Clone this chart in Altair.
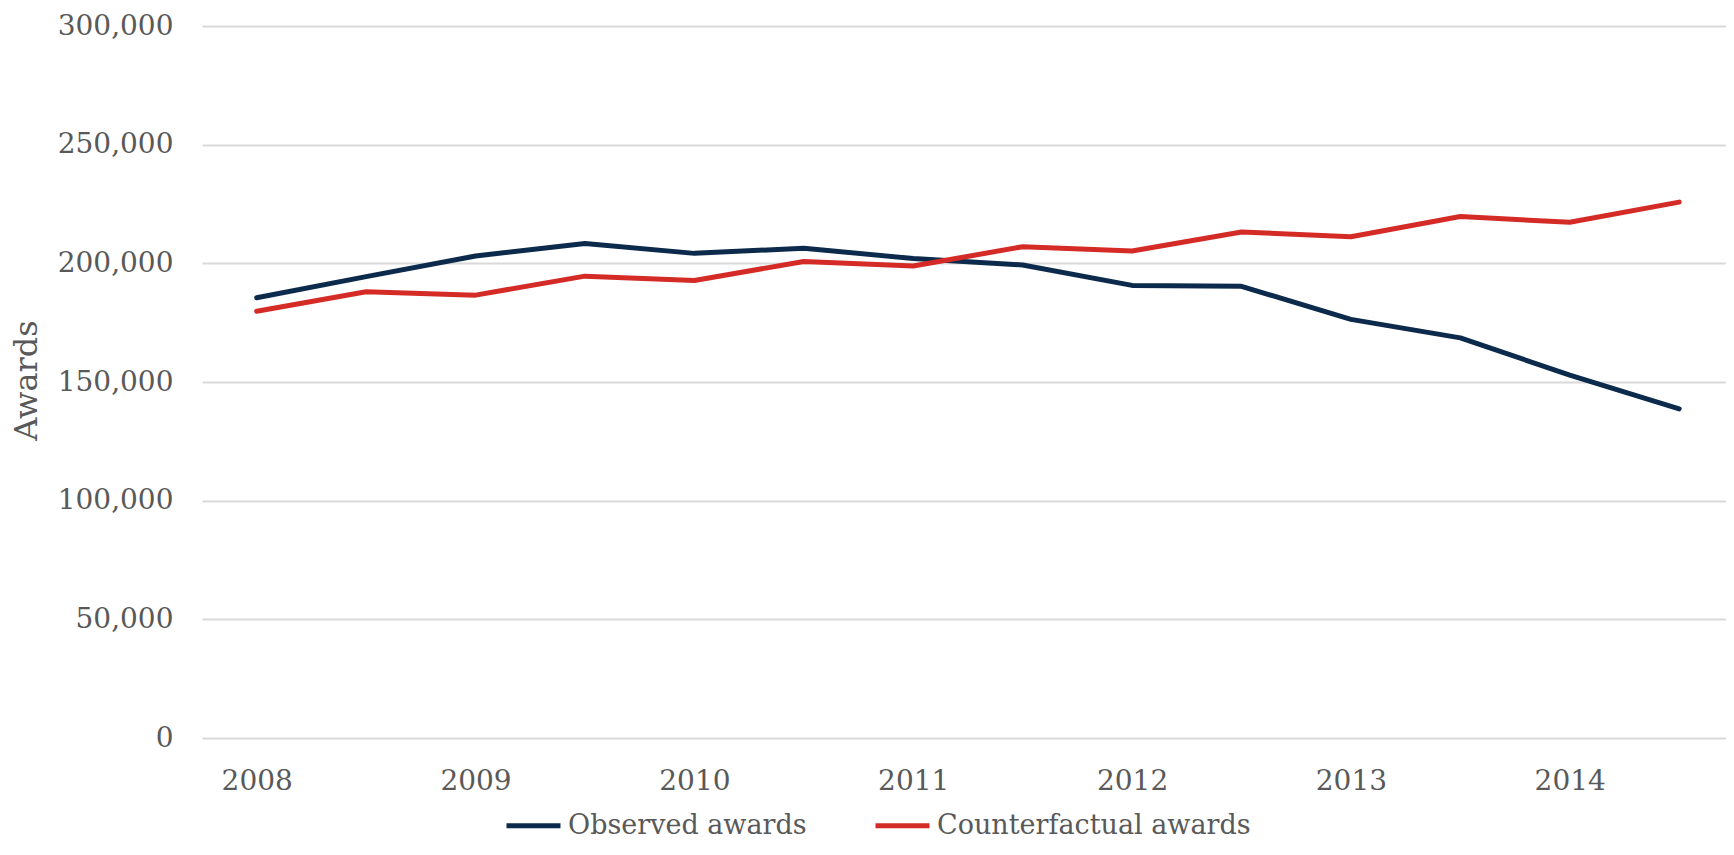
import altair as alt
import pandas as pd

periods = [2008, 2008.5, 2009, 2009.5, 2010, 2010.5, 2011, 2011.5,
           2012, 2012.5, 2013, 2013.5, 2014, 2014.5]
observed = [185500, 194400, 203100, 208400, 204200, 206400, 202000, 199300,
            190700, 190300, 176400, 168600, 152900, 138700]
counterfactual = [179800, 188000, 186600, 194600, 192800, 200800, 198900, 207000,
                  205200, 213200, 211200, 219700, 217300, 225800]
series_names = ["Observed awards", "Counterfactual awards"]
series_colors = ["#0c2a4b", "#d42b27"]
year_ticks = [2008, 2009, 2010, 2011, 2012, 2013, 2014]
y_ticks = [0, 50000, 100000, 150000, 200000, 250000, 300000]

rows = []
for p, o, c in zip(periods, observed, counterfactual):
    rows.append({"period": p, "series": series_names[0], "value": o})
    rows.append({"period": p, "series": series_names[1], "value": c})
df = pd.DataFrame(rows)

FONT = "DejaVu Serif"
GREY = "#595959"

chart = alt.Chart(df).mark_line(
    strokeWidth=5, strokeCap="round", strokeJoin="round"
).encode(
    x=alt.X(
        "period:Q",
        scale=alt.Scale(domain=[2007.75, 2014.714], nice=False, zero=False),
        axis=alt.Axis(
            values=year_ticks, format="d", title=None, grid=False, domain=False,
            ticks=False, labelFontSize=28, labelPadding=29, labelColor=GREY,
            labelFont=FONT, labelFlush=False,
        ),
    ),
    y=alt.Y(
        "value:Q",
        scale=alt.Scale(domain=[0, 300000], nice=False),
        axis=alt.Axis(
            values=y_ticks, format=",d", title="Awards", titleFont=FONT,
            titleFontSize=32, titleFontWeight="normal", titleColor=GREY,
            titleAngle=-90, titleX=-176, titleY=354, titleAlign="center",
            titleBaseline="middle", labelFontSize=28, labelPadding=29,
            labelColor=GREY, labelFont=FONT, grid=True, gridColor="#d9d9d9",
            gridWidth=2, domain=False, ticks=False,
        ),
    ),
    color=alt.Color(
        "series:N",
        scale=alt.Scale(domain=series_names, range=series_colors),
        legend=alt.Legend(
            title=None, orient="none", legendX=302, legendY=770,
            direction="horizontal", symbolType="stroke", symbolSize=2916,
            symbolStrokeWidth=5, labelFontSize=27, labelFont=FONT,
            labelColor=GREY, labelOffset=5, columnPadding=58, labelLimit=500,
        ),
    ),
).properties(
    width=1524,
    height=712,
    autosize=alt.AutoSizeParams(type="none"),
    padding={"left": 194, "top": 18, "right": 0, "bottom": 107},
).configure_view(stroke=None)

chart.save("out.html", embed_options={"renderer": "svg", "actions": False})
